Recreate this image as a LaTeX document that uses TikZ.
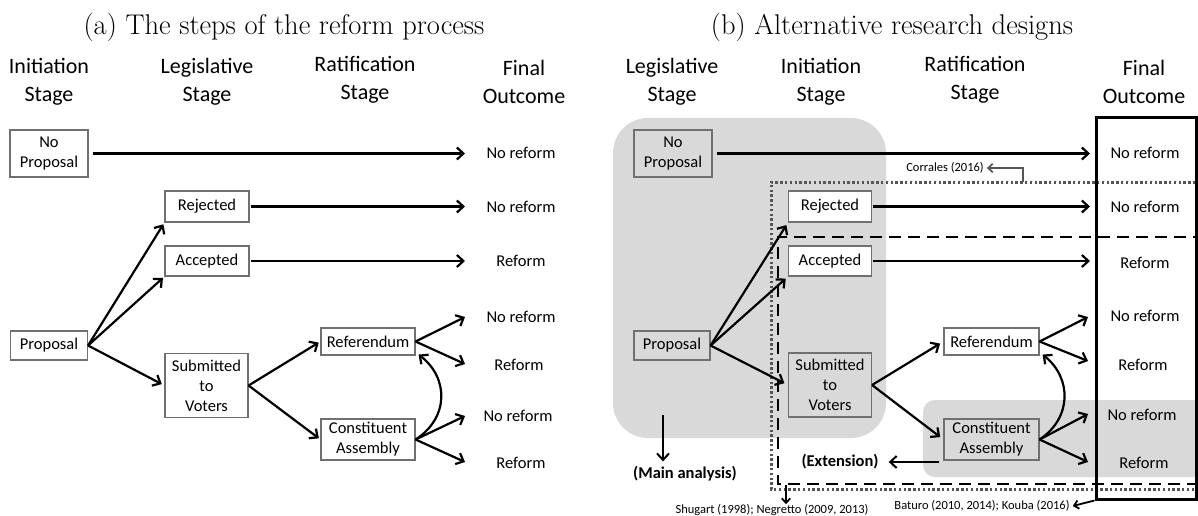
\documentclass[tikz,border=0pt]{standalone}
\usepackage{fontspec}
\newfontfamily\carfont{Carlito}
\usetikzlibrary{arrows.meta}
\definecolor{regiongray}{HTML}{D9D9D9}
\definecolor{boxgray}{HTML}{707070}
\definecolor{dotgray}{HTML}{555555}
\begin{document}
\begin{tikzpicture}[x=1pt,y=-1pt,
  >={Straight Barb[length=6.5pt,width=12pt]},
  ttl/.style={font=\fontsize{28.5}{32}\selectfont, inner sep=0},
  hdr/.style={font=\carfont\fontsize{22}{28}\selectfont, align=center, inner sep=0},
  bx/.style={draw=boxgray, line width=1.1pt, inner sep=0, align=center, font=\carfont\fontsize{16.5}{20}\selectfont},
  gbx/.style={bx, fill=regiongray},
  wbx/.style={bx, fill=white},
  outc/.style={font=\carfont\fontsize{16.5}{20}\selectfont, inner sep=0},
  small/.style={font=\carfont\fontsize{12.5}{15}\selectfont, inner sep=0},
  bold/.style={font=\carfont\bfseries\fontsize{16.5}{20}\selectfont, inner sep=0},
  arr/.style={->, line width=2.2pt},
  dotline/.style={draw=dotgray, line width=3pt, dash pattern=on 2.4pt off 2.4pt},
  dashline/.style={draw=black, line width=2.8pt, dash pattern=on 12pt off 7pt},
]
\useasboundingbox (0,0) rectangle (1198,515);

% ================= Panel (a) =================
\node[ttl] (ta) at (284,27) {(a) The steps of the reform process};
\node[hdr] (ha1) at (49,82) {Initiation\\Stage};
\node[hdr] (ha2) at (207,82) {Legislative\\Stage};
\node[hdr] (ha3) at (365,80) {Ratification\\Stage};
\node[hdr] (ha4) at (524,82) {Final\\Outcome};

\node[bx, minimum width=78pt, minimum height=47pt] (np) at (49,153.5) {No\\Proposal};
\node[bx, minimum width=84pt, minimum height=31pt] (rej) at (207,206.5) {Rejected};
\node[bx, minimum width=84pt, minimum height=30pt] (acc) at (207,261) {Accepted};
\node[bx, minimum width=77pt, minimum height=29pt] (prop) at (49,345.5) {Proposal};
\node[bx, minimum width=83pt, minimum height=64pt] (sub) at (206.5,385.5) {Submitted\\to\\Voters};
\node[bx, minimum width=94pt, minimum height=27pt] (ref) at (368,341.5) {Referendum};
\node[bx, minimum width=94pt, minimum height=41pt] (ca) at (368,439.5) {Constituent\\Assembly};

\node[outc] (o1) at (521,153) {No reform};
\node[outc] (o2) at (521,206.5) {No reform};
\node[outc] (o3) at (521,261) {Reform};
\node[outc] (o4) at (521,317) {No reform};
\node[outc] (o5) at (519,365) {Reform};
\node[outc] (o6) at (518,416) {No reform};
\node[outc] (o7) at (521,463) {Reform};

\coordinate (a1) at (465,153.5);
\coordinate (a2) at (465,206.5);
\coordinate (a3) at (465,261);
\coordinate (a4) at (465,317);
\coordinate (a5) at (465,364);
\coordinate (a6) at (465,416);
\coordinate (a7) at (465,462);

\draw[arr, shorten <=4pt] (np) -- (a1);
\draw[arr, shorten <=1pt] (rej) -- (a2);
\draw[arr, shorten <=1pt] (acc) -- (a3);
\draw[arr, shorten >=2pt] (prop.east) -- (rej.south west);
\draw[arr, shorten >=2pt] (prop.east) -- (acc.south west);
\draw[arr, shorten >=3pt] (prop.east) -- (sub.west);
\draw[arr, shorten >=2pt] (sub.east) -- (ref.west);
\draw[arr, shorten >=2pt] (sub.east) -- (ca.west);
\draw[arr] (ref.east) -- (a4);
\draw[arr] (ref.east) -- (a5);
\draw[arr] (ca.east) -- (a6);
\draw[arr] (ca.east) -- (a7);
\draw[arr] (ca.east) .. controls (449,418) and (449,378) .. ([shift={(3pt,1pt)}]ref.south east);

% ================= Panel (b) =================
\node[ttl] (tb) at (892,27) {(b) Alternative research designs};
\node[hdr] (hb1) at (672,82) {Legislative\\Stage};
\node[hdr] (hb2) at (821,82) {Initiation\\Stage};
\node[hdr] (hb3) at (975,80) {Ratification\\Stage};
\node[hdr] (hb4) at (1144,82) {Final\\Outcome};

% grey regions
\fill[regiongray, rounded corners=35pt] (613,118) rectangle (886,438);
\fill[regiongray, rounded corners=12pt] (923,400) rectangle (1215,477);

% dotted and dashed frames
\draw[dotline] (1205,182) -- (771,182) -- (771,489) -- (1205,489);
\draw[dashline] (1205,237) -- (778,237) -- (778,484) -- (1205,484);

\node[gbx, minimum width=78pt, minimum height=47pt] (np2) at (673,153.5) {No\\Proposal};
\node[wbx, minimum width=83pt, minimum height=31pt] (rej2) at (830,206.5) {Rejected};
\node[wbx, minimum width=83pt, minimum height=30pt] (acc2) at (830,261) {Accepted};
\node[gbx, minimum width=76pt, minimum height=29pt] (prop2) at (672,345.5) {Proposal};
\node[gbx, minimum width=83pt, minimum height=64pt] (sub2) at (830,385) {Submitted\\to\\Voters};
\node[wbx, minimum width=95pt, minimum height=27pt] (ref2) at (991.5,341.5) {Referendum};
\node[gbx, minimum width=95pt, minimum height=41pt] (ca2) at (991.5,439.5) {Constituent\\Assembly};

% final outcome frame
\node[draw=black, line width=3pt, minimum width=100pt, minimum height=382pt, inner sep=0] (fo) at (1146,308) {};

\node[outc] (r1) at (1145,153) {No reform};
\node[outc] (r2) at (1145,206.5) {No reform};
\node[outc] (r3) at (1145,263) {Reform};
\node[outc] (r4) at (1145,316) {No reform};
\node[outc] (r5) at (1143,365) {Reform};
\node[outc] (r6) at (1142,415) {No reform};
\node[outc] (r7) at (1144,463) {Reform};

\coordinate (b1) at (1090,153.5);
\coordinate (b2) at (1090,206.5);
\coordinate (b3) at (1090,261);
\coordinate (b4) at (1088,317);
\coordinate (b5) at (1088,361);
\coordinate (b6) at (1088,414);
\coordinate (b7) at (1088,462);

\draw[arr, shorten <=4pt] (np2) -- (b1);
\draw[arr, shorten <=1pt] (rej2) -- (b2);
\draw[arr, shorten <=1pt] (acc2) -- (b3);
\draw[arr, shorten >=3pt] (prop2.east) -- (rej2.south west);
\draw[arr, shorten >=3pt] (prop2.east) -- (acc2.south west);
\draw[arr, shorten >=4pt] (prop2.east) -- (sub2.west);
\draw[arr, shorten >=4pt] (sub2.east) -- (ref2.west);
\draw[arr, shorten >=4pt] (sub2.east) -- (ca2.west);
\draw[arr] (ref2.east) -- (b4);
\draw[arr] (ref2.east) -- (b5);
\draw[arr] (ca2.east) -- (b6);
\draw[arr] (ca2.east) -- (b7);
\draw[arr] (ca2.east) .. controls (1072,418) and (1072,378) .. ([shift={(3pt,1pt)}]ref2.south east);

% annotations
\node[small] (corr) at (945,168) {Corrales (2016)};
\coordinate (crs) at (1023,182);
\draw[->, draw=dotgray, line width=1.8pt, >={Straight Barb[length=4.5pt,width=8.5pt]}] (crs) |- ([xshift=3pt]corr.east);

\node[bold] (mat) at (685,474) {(Main analysis)};
\coordinate (mas) at (663,415);
\draw[->, line width=2pt, shorten >=5pt] (mas) -- (mas |- mat.north);

\node[bold] (ext) at (840,462) {(Extension)};
\coordinate (exs) at (939,462);
\draw[->, line width=2pt, shorten >=10pt] (exs) -- (ext.east);

\node[small] (shug) at (772,510) {Shugart (1998); Negretto (2009, 2013)};
\coordinate (shs) at (786,485);
\draw[->, line width=1.8pt, >={Straight Barb[length=4.5pt,width=8.5pt]}] (shs) -- (shs |- shug.north);

\node[small] (bat) at (982,506) {Baturo (2010, 2014); Kouba (2016)};
\draw[->, line width=1.8pt, >={Straight Barb[length=4.5pt,width=8.5pt]}] (fo.south west) -- ([xshift=3pt]bat.east);
\end{tikzpicture}
\end{document}
